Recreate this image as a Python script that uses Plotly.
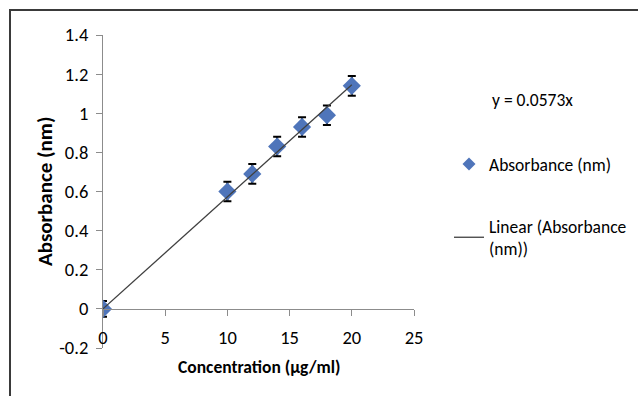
import plotly.graph_objects as go

# ---- data ----
concentration = [0, 10, 12, 14, 16, 18, 20]
absorbance = [0.0, 0.60, 0.69, 0.83, 0.93, 0.99, 1.14]
abs_error = [0.04, 0.05, 0.05, 0.05, 0.05, 0.05, 0.05]
trend_x = [0, 20]
trend_y = [0.0, 1.146]
x_ticks = [0, 5, 10, 15, 20, 25]
y_ticks = [-0.2, 0, 0.2, 0.4, 0.6, 0.8, 1.0, 1.2, 1.4]
y_tick_text = ["-0.2", "0", "0.2", "0.4", "0.6", "0.8", "1", "1.2", "1.4"]
equation = "y = 0.0573x"

FONT = "Carlito, Calibri, Lato, sans-serif"
FS = 17.5
W, H = 638, 396
L, R, T, B = 103, 224, 35, 48
PW, PH = W - L - R, H - T - B
MARKER_COL = "#4F75BA"


def px(xp):
    return (xp - L) / PW


def py(yp):
    return (H - B - yp) / PH


fig = go.Figure()
fig.add_trace(go.Scatter(
    x=concentration, y=absorbance, mode="markers",
    name="Absorbance (nm)", showlegend=False,
    marker=dict(symbol="diamond", size=14, color=MARKER_COL),
    error_y=dict(type="data", array=abs_error, color="black", thickness=2, width=4),
))
# legend entry (Excel draws the legend symbol smaller than the plotted markers)
fig.add_trace(go.Scatter(
    x=[None], y=[None], mode="markers", name="Absorbance (nm)",
    marker=dict(symbol="diamond", size=10, color=MARKER_COL),
    legend="legend",
))
fig.add_trace(go.Scatter(
    x=trend_x, y=trend_y, mode="lines",
    name="Linear (Absorbance<br>(nm))",
    line=dict(color="#404040", width=1.3),
    legend="legend2",
))

axis_col = "#8C8C8C"
fig.update_layout(
    width=W, height=H,
    margin=dict(l=L, r=R, t=T, b=B, autoexpand=False),
    paper_bgcolor="white", plot_bgcolor="white",
    font=dict(family=FONT, size=FS, color="black"),
    xaxis=dict(
        range=[0, 25], tickvals=x_ticks, showgrid=False, zeroline=False,
        showline=True, linecolor=axis_col, linewidth=1,
        ticks="outside", ticklen=6, tickcolor=axis_col,
        anchor="free", position=0.2 / 1.6,
        tickfont=dict(size=18.5), ticklabelstandoff=6, automargin=False,
    ),
    yaxis=dict(
        range=[-0.2, 1.4], tickvals=y_ticks, ticktext=y_tick_text,
        showgrid=False, zeroline=False,
        showline=True, linecolor=axis_col, linewidth=1,
        ticks="outside", ticklen=6, tickcolor=axis_col,
        tickfont=dict(size=18.5), ticklabelstandoff=4, automargin=False,
    ),
    legend=dict(x=px(449), y=py(146), xanchor="left", yanchor="top",
                bgcolor="rgba(0,0,0,0)", font=dict(size=FS)),
    legend2=dict(x=px(449), y=py(208), xanchor="left", yanchor="top",
                 bgcolor="rgba(0,0,0,0)", font=dict(size=FS)),
    showlegend=True,
)

fig.add_annotation(text=equation, xref="paper", yref="paper",
                   x=px(532), y=py(100), showarrow=False,
                   xanchor="center", yanchor="middle", font=dict(size=FS))
fig.add_annotation(text="<b>Concentration (µg/ml)</b>", xref="paper", yref="paper",
                   x=px(259), y=py(367), showarrow=False,
                   xanchor="center", yanchor="middle", font=dict(size=FS))
fig.add_annotation(text="<b>Absorbance (nm)</b>", xref="paper", yref="paper",
                   x=px(45), y=py(192), showarrow=False, textangle=-90,
                   xanchor="center", yanchor="middle", font=dict(size=21))

# outer chart border (extends past the visible window on right/bottom)
fig.add_shape(type="rect", xref="paper", yref="paper",
              x0=px(10), y0=py(420), x1=px(660), y1=py(10),
              line=dict(color="#3a3a3a", width=2), layer="above")

fig.write_html("out.html")
